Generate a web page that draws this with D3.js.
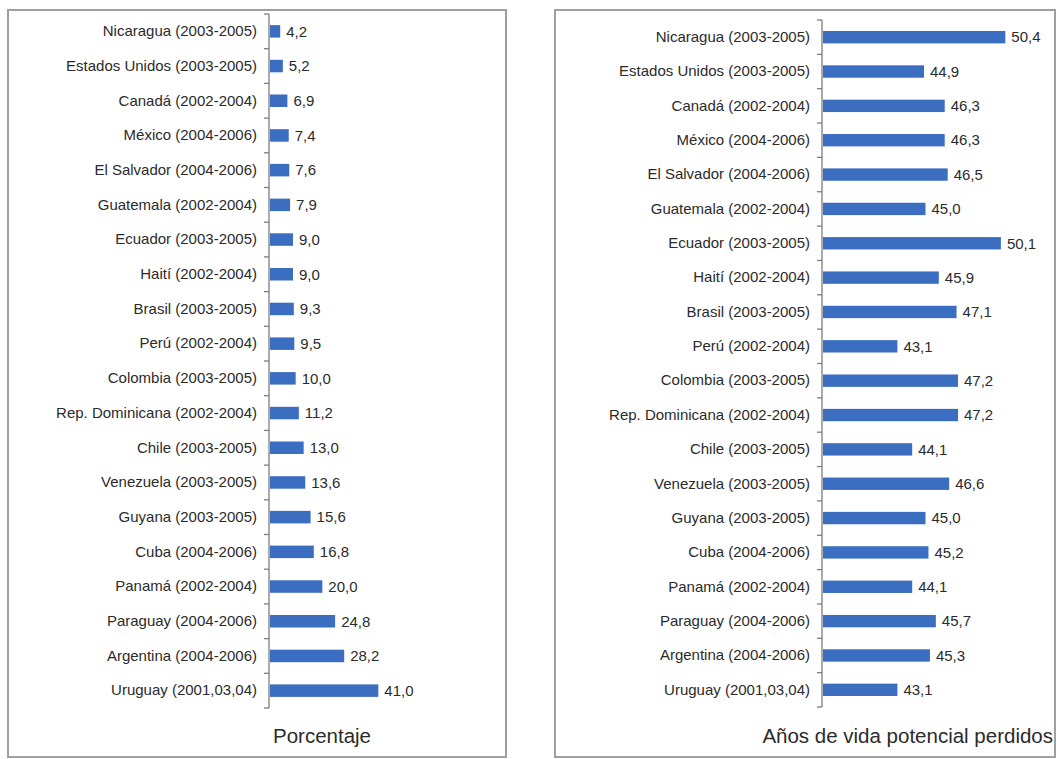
<!DOCTYPE html>
<html><head><meta charset="utf-8">
<script src="https://cdn.jsdelivr.net/npm/d3@7"></script>
<style>
body{margin:0;background:#fff;}
text{font-family:"Liberation Sans",Arial,sans-serif;fill:#2b2b2b;}
</style></head>
<body><svg id="c" width="1061" height="759"></svg>
<script>
const countries = ["Nicaragua (2003-2005)","Estados Unidos (2003-2005)","Canadá (2002-2004)","México (2004-2006)","El Salvador (2004-2006)","Guatemala (2002-2004)","Ecuador (2003-2005)","Haití (2002-2004)","Brasil (2003-2005)","Perú (2002-2004)","Colombia (2003-2005)","Rep. Dominicana (2002-2004)","Chile (2003-2005)","Venezuela (2003-2005)","Guyana (2003-2005)","Cuba (2004-2006)","Panamá (2002-2004)","Paraguay (2004-2006)","Argentina (2004-2006)","Uruguay (2001,03,04)"];
const porcentaje = [4.2,5.2,6.9,7.4,7.6,7.9,9.0,9.0,9.3,9.5,10.0,11.2,13.0,13.6,15.6,16.8,20.0,24.8,28.2,41.0];
const avpp = [50.4,44.9,46.3,46.3,46.5,45.0,50.1,45.9,47.1,43.1,47.2,47.2,44.1,46.6,45.0,45.2,44.1,45.7,45.3,43.1];
const titles = ["Porcentaje","Años de vida potencial perdidos"];

const svg = d3.select("#c");
const fmt = v => v.toFixed(1).replace(".", ",");

function panel(cfg){
  const g = svg.append("g");
  g.append("rect").attr("x",cfg.box[0]).attr("y",cfg.box[1]).attr("width",cfg.box[2]).attr("height",cfg.box[3])
    .attr("fill","#fff").attr("stroke","#a39d9d").attr("stroke-width",2);
  const y = d3.scaleBand().domain(countries).range(cfg.yr).paddingInner(0.64).paddingOuter(0.32);
  const x = d3.scaleLinear().domain(cfg.xd).range(cfg.xr);
  const ax = g.append("g").attr("transform",`translate(${cfg.xr[0]},0)`)
    .call(d3.axisLeft(y).tickSize(0).tickPadding(12));
  ax.select(".domain").remove();
  ax.selectAll("text").style("font-size","15px").attr("fill","#2b2b2b").style("font-family","'Liberation Sans',Arial,sans-serif");
  g.append("line").attr("x1",cfg.xr[0]).attr("x2",cfg.xr[0]).attr("y1",cfg.yr[0]).attr("y2",cfg.yr[1])
    .attr("stroke","#7d7d7d").attr("stroke-width",1.3);
  g.selectAll("line.tk").data(d3.range(countries.length+1)).join("line").attr("class","tk")
    .attr("x1",cfg.xr[0]-5).attr("x2",cfg.xr[0])
    .attr("y1",i=>cfg.yr[0]+i*y.step()).attr("y2",i=>cfg.yr[0]+i*y.step())
    .attr("stroke","#7d7d7d").attr("stroke-width",1.3);
  g.selectAll("rect.bar").data(cfg.vals).join("rect").attr("class","bar")
    .attr("x",x(cfg.xd[0])+1).attr("y",(d,i)=>y(countries[i]))
    .attr("width",d=>x(d)-x(cfg.xd[0])-1).attr("height",y.bandwidth())
    .attr("fill","#3b6dc1");
  g.selectAll("text.val").data(cfg.vals).join("text").attr("class","val")
    .attr("x",d=>x(d)+6).attr("y",(d,i)=>y(countries[i])+y.bandwidth()/2).attr("dy","0.35em")
    .style("font-size","15px").text(fmt);
  g.append("text").attr("x",cfg.title[0]).attr("y",cfg.title[1]).attr("text-anchor",cfg.title[2])
    .style("font-size","20.5px").text(cfg.title[3]);
}

panel({box:[8,10,498,747], yr:[14,708], xd:[0,45], xr:[269,389], vals:porcentaje,
  title:[322,743,"middle",titles[0]]});
panel({box:[555,10,500,747], yr:[20,707], xd:[38,52], xr:[822,1029], vals:avpp,
  title:[1053,743,"end",titles[1]]});
</script></body></html>
